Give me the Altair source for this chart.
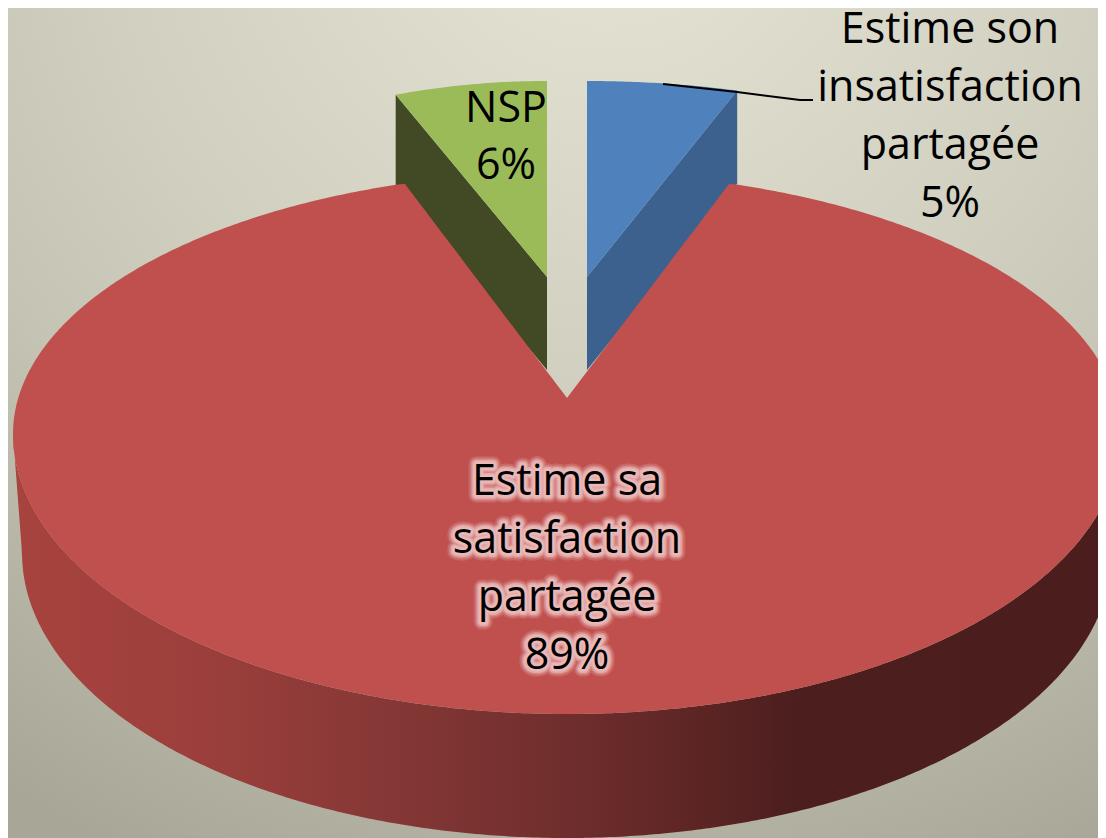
import numpy as np
import pandas as pd
import altair as alt

# ---- values
categories = ["Estime son insatisfaction partagée", "NSP", "Estime sa satisfaction partagée"]
shares = [5, 6, 89]
top_colors = ["#4f81bd", "#9bbb59", "#c0504d"]
wall_colors = ["#3c618f", "#414a24"]

label_lines = [
    ["Estime son", "insatisfaction", "partagée", "5%"],
    ["NSP", "6%"],
    ["Estime sa", "satisfaction", "partagée", "89%"],
]
label_x = [950, 506, 567]
label_y0 = [43, 122, 495]
line_step = [58, 57, 58]
font_size = 43

M = 8
W, H = 1098, 838
X = alt.X("x:Q", axis=None, scale=alt.Scale(domain=[M, W], nice=False, zero=False))
Y = alt.Y("y:Q", axis=None, scale=alt.Scale(domain=[H, M], nice=False, zero=False))
Y2 = alt.Y2("y2:Q")


def area(df, color, **kw):
    return alt.Chart(df).mark_area(color=color, clip=True, **kw).encode(x=X, y=Y, y2=Y2)


# background
bg = alt.Chart(pd.DataFrame({"x": [M], "x2": [W], "y": [M], "y2": [H]})).mark_rect(
    color=alt.RadialGradient(
        gradient="radial", x1=0.55, y1=0, r1=0, x2=0.55, y2=0, r2=1,
        stops=[
            alt.GradientStop(color="#e7e5d6", offset=0),
            alt.GradientStop(color="#d0cfc0", offset=0.47),
            alt.GradientStop(color="#c4c3b4", offset=0.67),
            alt.GradientStop(color="#a8a696", offset=1),
        ],
    )
).encode(x=X, x2="x2:Q", y=Y, y2=Y2)

# main (red) slice
cx, rx = 567, 554
apex_y, corner_off, corner_y = 398, 162, 184
back_y0, back_ry, front_y0, front_ry = 434, 262, 434, 280
low_rx, low_y0, low_ry = 545, 553, 285

theta = np.radians(np.arange(-90, 90.5, 0.5))
xs = np.unique(np.concatenate([cx + rx * np.sin(theta), [cx - corner_off, cx, cx + corner_off]]))
off = np.abs(xs - cx)
root = np.sqrt(np.clip(1 - (off / rx) ** 2, 0, 1))
top = np.where(off <= corner_off,
               apex_y - (apex_y - corner_y) * off / corner_off,
               back_y0 - back_ry * root)
front = front_y0 + front_ry * root
low = np.where(off <= low_rx,
               low_y0 + low_ry * np.sqrt(np.clip(1 - (off / low_rx) ** 2, 0, 1)),
               low_y0 - (off - low_rx) / (rx - low_rx) * (low_y0 - front_y0))
red_top = pd.DataFrame({"x": xs, "y": top, "y2": front})
red_wall = pd.DataFrame({"x": xs, "y": front, "y2": low})

span = xs.max() - xs.min()
wall_stops = [(13, "#a8433f"), (200, "#9c3f3c"), (400, "#843735"), (567, "#6f2e2d"),
              (700, "#5c2524"), (797, "#4c1e1e"), (1121, "#4b1d1d")]
wall_grad = alt.Gradient(
    gradient="linear", x1=0, x2=1, y1=0, y2=0,
    stops=[alt.GradientStop(color=c, offset=float((p - xs.min()) / span)) for p, c in wall_stops],
)


# detached slices: apex, angular span from the share, ellipse radii of the outer arc
def detached(share, side, ax, ay, arc_rx, arc_ry, depth):
    a = np.radians(np.linspace(0, share * 3.6, 40))
    px = ax + side * arc_rx * np.sin(a)
    py = ay - arc_ry * np.cos(a)
    tip_x, tip_y = px[-1], py[-1]
    low_edge = ay + (tip_y - ay) * (px - ax) / (tip_x - ax)
    order = np.argsort(px)
    face = pd.DataFrame({"x": px[order], "y": py[order], "y2": low_edge[order]})
    wall = pd.DataFrame({"x": [ax, tip_x], "y": [ay, tip_y], "y2": [ay + depth, tip_y + depth]}).sort_values("x")
    return face, wall


blue_face, blue_wall = detached(shares[0], 1, 587, 277, 486, 196, 93)
green_face, green_wall = detached(shares[1], -1, 547, 277, 411, 196, 93)

layers = [
    bg,
    area(blue_wall, wall_colors[0]),
    area(green_wall, wall_colors[1]),
    area(blue_face, top_colors[0]),
    area(green_face, top_colors[1]),
    area(red_wall, wall_grad),
    area(red_top, top_colors[2]),
]

# leader line
leader_x = [663, 737, 800, 813]
leader_y = [84, 92, 100, 100]
leader = alt.Chart(pd.DataFrame({"x": leader_x, "y": leader_y})).mark_line(
    color="black", strokeWidth=2
).encode(x=X, y=Y)
layers.append(leader)

# labels
rows = []
for i, lines in enumerate(label_lines):
    for j, t in enumerate(lines):
        rows.append({"x": label_x[i], "y": label_y0[i] + j * line_step[i], "t": t, "slice": i})
labels = pd.DataFrame(rows)
base_kw = dict(font="Open Sans", fontSize=font_size, align="center", baseline="alphabetic")

glow_df = labels[labels["slice"] == 2]
for sw, op in [(15, 0.2), (11, 0.35), (8, 0.5), (5, 0.5)]:
    layers.append(
        alt.Chart(glow_df).mark_text(
            color="#f0c8c8", stroke="#f0c8c8", strokeWidth=sw, opacity=op, strokeJoin="round", **base_kw
        ).encode(x=X, y=Y, text="t:N")
    )
layers.append(alt.Chart(labels).mark_text(color="black", **base_kw).encode(x=X, y=Y, text="t:N"))

chart = alt.layer(*layers).properties(
    width=W - M, height=H - M, padding=0, autosize=alt.AutoSizeParams(type="none"), background="white"
).configure_view(stroke=None)

chart.save("out.html", embed_options={"renderer": "svg", "actions": False})
